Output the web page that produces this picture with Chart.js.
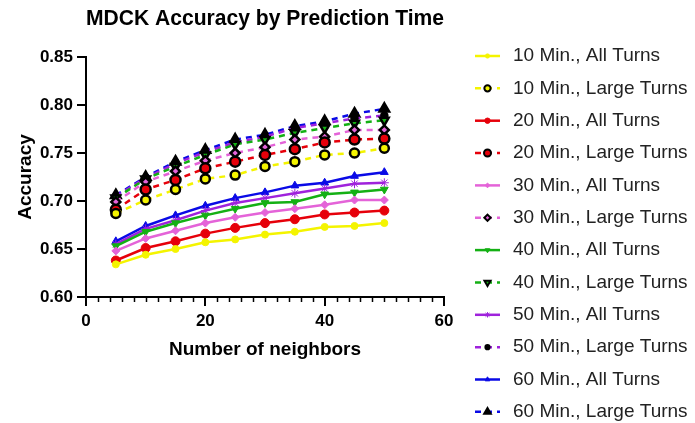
<!DOCTYPE html>
<html>
<head>
<meta charset="utf-8">
<script src="https://cdn.jsdelivr.net/npm/chart.js@4"></script>
<style>
  html, body { margin: 0; padding: 0; background: #fff; }
  #wrap { width: 695px; height: 423px; }
</style>
</head>
<body>
<div id="wrap"><canvas id="accChart" width="695" height="423"></canvas></div>
<script>
const neighbors = [5, 10, 15, 20, 25, 30, 35, 40, 45, 50];

// accuracy, all turns
const all10 = [0.634, 0.644, 0.650, 0.657, 0.660, 0.665, 0.668, 0.673, 0.674, 0.677];
const all20 = [0.638, 0.651, 0.658, 0.666, 0.672, 0.677, 0.681, 0.686, 0.688, 0.690];
const all30 = [0.648, 0.661, 0.669, 0.677, 0.683, 0.688, 0.692, 0.696, 0.701, 0.701];
const all40 = [0.653, 0.668, 0.677, 0.685, 0.692, 0.698, 0.699, 0.707, 0.709, 0.712];
const all50 = [0.655, 0.671, 0.680, 0.690, 0.698, 0.703, 0.708, 0.713, 0.718, 0.719];
const all60 = [0.658, 0.674, 0.685, 0.695, 0.703, 0.709, 0.716, 0.719, 0.726, 0.730];

// accuracy, large turns
const large10 = [0.687, 0.701, 0.712, 0.723, 0.727, 0.736, 0.741, 0.748, 0.750, 0.755];
const large20 = [0.691, 0.712, 0.722, 0.734, 0.741, 0.748, 0.754, 0.761, 0.764, 0.765];
const large30 = [0.699, 0.720, 0.731, 0.742, 0.750, 0.756, 0.764, 0.767, 0.774, 0.774];
const large40 = [0.703, 0.723, 0.736, 0.748, 0.759, 0.764, 0.771, 0.776, 0.781, 0.784];
const large50 = [0.705, 0.724, 0.739, 0.751, 0.761, 0.767, 0.776, 0.781, 0.786, 0.789];
const large60 = [0.706, 0.725, 0.741, 0.753, 0.764, 0.769, 0.778, 0.783, 0.791, 0.796];

const yTicks = [0.60, 0.65, 0.70, 0.75, 0.80, 0.85];
const xTicks = [0, 20, 40, 60];

const YELLOW = '#f4f400';
const RED = '#e6000a';
const PINK = '#e463d8';
const GREEN = '#14b014';
const PURPLE = '#9f22dc';
const BLUE = '#0a0ae6';

function pts(vals) {
  return neighbors.map((n, i) => ({ x: n, y: vals[i] }));
}

function solid(label, vals, color, style, radius, rotation) {
  return {
    label, data: pts(vals),
    borderColor: color, backgroundColor: color,
    borderWidth: 2.5,
    pointStyle: style, pointRadius: radius, pointRotation: rotation || 0,
    pointBackgroundColor: color, pointBorderColor: color, pointBorderWidth: 1,
    tension: 0
  };
}

function dashed(label, vals, color, style, radius, fill, rotation) {
  return {
    label, data: pts(vals),
    borderColor: color, backgroundColor: fill,
    borderWidth: 2.5, borderDash: [6, 5],
    pointStyle: style, pointRadius: radius, pointRotation: rotation || 0,
    pointBackgroundColor: fill, pointBorderColor: '#000', pointBorderWidth: 2.5,
    tension: 0
  };
}

const datasets = [
  solid('10 Min., All Turns', all10, YELLOW, 'circle', 3.5),
  dashed('10 Min., Large Turns', large10, YELLOW, 'circle', 4.5, YELLOW),
  solid('20 Min., All Turns', all20, RED, 'circle', 4.5),
  dashed('20 Min., Large Turns', large20, RED, 'circle', 5, RED),
  solid('30 Min., All Turns', all30, PINK, 'rectRot', 4),
  dashed('30 Min., Large Turns', large30, PINK, 'rectRot', 4.5, PINK),
  solid('40 Min., All Turns', all40, GREEN, 'triangle', 4.5, 180),
  dashed('40 Min., Large Turns', large40, GREEN, 'triangle', 5, GREEN, 180),
  solid('50 Min., All Turns', all50, PURPLE, 'star', 4.5),
  dashed('50 Min., Large Turns', large50, PURPLE, 'circle', 3, '#000'),
  solid('60 Min., All Turns', all60, BLUE, 'triangle', 4.5),
  dashed('60 Min., Large Turns', large60, BLUE, 'triangle', 5.5, '#000')
];

// minor ticks every 2 along the x axis, plus the legend with line samples
const extras = {
  id: 'extras',
  afterDraw(chart) {
    const ctx = chart.ctx;
    const xs = chart.scales.x;
    const base = chart.chartArea.bottom;
    ctx.save();
    ctx.strokeStyle = '#000';
    ctx.lineWidth = 1.5;
    for (let v = 2; v < 60; v += 2) {
      if (v % 20 === 0) continue;
      const px = Math.round(xs.getPixelForValue(v)) + 0.5;
      ctx.beginPath();
      ctx.moveTo(px, base);
      ctx.lineTo(px, base + 5);
      ctx.stroke();
    }

    const x0 = 475, x1 = 500, tx = 513;
    const top = 56, step = 32.35;
    ctx.font = '19px "Liberation Sans", Arial, sans-serif';
    ctx.textBaseline = 'middle';
    chart.data.datasets.forEach((ds, i) => {
      const y = top + i * step;
      ctx.strokeStyle = ds.borderColor;
      ctx.lineWidth = 2.5;
      ctx.setLineDash(ds.borderDash || []);
      ctx.beginPath();
      ctx.moveTo(x0, y);
      ctx.lineTo(x1, y);
      ctx.stroke();
      ctx.setLineDash([]);
      ctx.fillStyle = ds.pointBackgroundColor;
      ctx.strokeStyle = ds.pointBorderColor;
      ctx.lineWidth = ds.borderDash ? 2 : 1;
      Chart.helpers.drawPoint(ctx, {
        pointStyle: ds.pointStyle,
        rotation: ds.pointRotation,
        radius: ds.borderDash ? ds.pointRadius * 0.7 : ds.pointRadius * 0.6,
        borderWidth: ctx.lineWidth
      }, (x0 + x1) / 2, y);
      ctx.fillStyle = '#222';
      ctx.fillText(ds.label, tx, y);
    });
    ctx.restore();
  }
};

const boldFont = size => ({ family: '"Liberation Sans", Arial, sans-serif', size, weight: 'bold' });

new Chart(document.getElementById('accChart'), {
  type: 'line',
  data: { datasets },
  options: {
    responsive: false,
    animation: false,
    layout: { padding: { left: 14, right: 251, top: 0, bottom: 62 } },
    plugins: {
      legend: { display: false },
      tooltip: { enabled: false },
      title: {
        display: true,
        text: 'MDCK Accuracy by Prediction Time',
        fullSize: false,
        color: '#000',
        font: boldFont(22),
        padding: { top: 6, bottom: 24.6 }
      }
    },
    scales: {
      x: {
        type: 'linear',
        min: 0, max: 60,
        afterBuildTicks: s => { s.ticks = xTicks.map(v => ({ value: v })); },
        border: { color: '#000', width: 2 },
        grid: { drawOnChartArea: false, color: '#000', lineWidth: 2, tickLength: 9 },
        ticks: { color: '#000', font: boldFont(17), padding: 5, maxRotation: 0 },
        title: { display: true, text: 'Number of neighbors', color: '#000', font: boldFont(19), padding: 0 },
        afterFit: s => { s.height = 64; }
      },
      y: {
        min: 0.60, max: 0.85,
        afterBuildTicks: s => { s.ticks = yTicks.map(v => ({ value: v })); },
        border: { color: '#000', width: 2 },
        grid: { drawOnChartArea: false, color: '#000', lineWidth: 2, tickLength: 9 },
        ticks: { color: '#000', font: boldFont(17), padding: 4, callback: v => v.toFixed(2) },
        title: { display: true, text: 'Accuracy', color: '#000', font: boldFont(19), padding: 0 },
        afterFit: s => { s.width = 72; }
      }
    }
  },
  plugins: [extras]
});
</script>
</body>
</html>
